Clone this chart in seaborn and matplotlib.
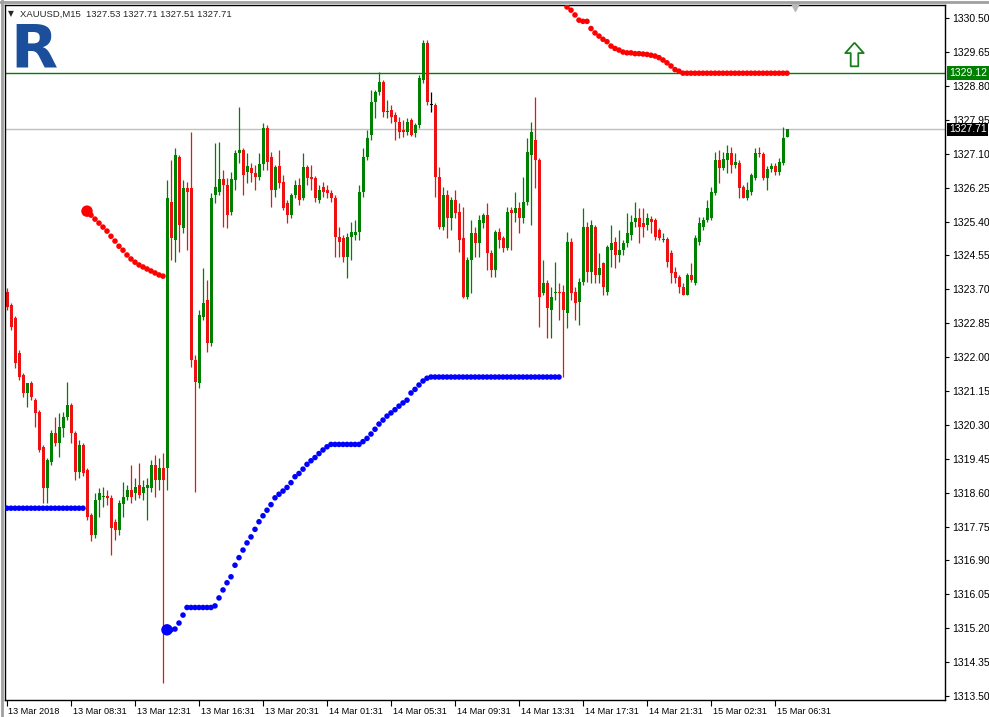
import numpy as np
import pandas as pd
import matplotlib
matplotlib.use("Agg")
import matplotlib.pyplot as plt
import matplotlib.transforms as mtransforms
from matplotlib.path import Path
import seaborn as sns

# XAUUSD M15 bars
opens = [1323.63, 1323.30, 1322.98, 1322.10, 1321.55, 1321.10, 1321.35, 1320.92, 1320.62, 1319.75,
         1318.72, 1319.37, 1320.10, 1319.85, 1320.22, 1320.50, 1320.80, 1320.10, 1319.12, 1319.80,
         1319.17, 1318.04, 1317.54, 1318.41, 1318.49, 1318.52, 1318.46, 1317.86, 1317.66, 1318.32,
         1318.49, 1318.66, 1318.59, 1318.79, 1318.59, 1318.72, 1318.72, 1319.29, 1318.92, 1319.22,
         1319.22, 1325.89, 1324.93, 1327.02, 1325.23, 1326.24, 1326.24, 1321.92, 1321.35, 1323.00,
         1323.43, 1322.35, 1326.06, 1326.14, 1326.46, 1326.31, 1325.64, 1326.44, 1327.12, 1327.19,
         1326.64, 1326.74, 1326.61, 1326.51, 1326.84, 1327.74, 1327.02, 1326.19, 1326.79, 1326.39,
         1325.86, 1325.56, 1326.06, 1326.31, 1325.99, 1326.76, 1326.51, 1326.49, 1325.94, 1326.26,
         1326.19, 1326.11, 1325.99, 1325.01, 1324.98, 1324.51, 1325.01, 1325.06, 1325.13, 1326.14,
         1327.02, 1327.57, 1328.39, 1328.64, 1328.90, 1328.14, 1328.19, 1328.07, 1327.89, 1327.69,
         1327.64, 1327.94, 1327.62, 1327.82, 1328.95, 1329.87, 1328.32, 1328.32, 1326.51, 1325.26,
         1326.06, 1325.48, 1325.94, 1325.64, 1324.98, 1323.51, 1324.43, 1325.11, 1324.86, 1325.36,
         1325.56, 1324.61, 1324.18, 1325.13, 1324.98, 1324.73, 1325.69, 1325.61, 1325.74, 1325.48,
         1325.89, 1327.07, 1327.44, 1326.94, 1323.61, 1323.86, 1323.18, 1323.61, 1323.63, 1323.63,
         1323.10, 1324.88, 1323.63, 1323.38, 1323.88, 1325.26, 1324.13, 1325.26, 1324.06, 1324.36,
         1323.63, 1324.68, 1324.88, 1324.56, 1324.68, 1324.86, 1325.06, 1325.38, 1325.48, 1325.36,
         1325.31, 1325.46, 1325.43, 1325.18, 1324.93, 1324.96, 1324.61, 1324.13, 1324.01, 1323.75,
         1323.55, 1324.06, 1323.86, 1324.88, 1325.26, 1325.43, 1325.48, 1326.11, 1326.94, 1326.74,
         1326.94, 1327.12, 1326.81, 1326.86, 1326.26, 1325.99, 1326.14, 1326.49, 1327.12, 1327.09,
         1326.49, 1326.71, 1326.79, 1326.64, 1326.86, 1327.53]
highs = [1323.73, 1323.35, 1323.03, 1322.17, 1321.60, 1321.35, 1321.40, 1320.97, 1320.67, 1319.80,
         1319.47, 1320.17, 1320.50, 1320.60, 1320.62, 1321.38, 1320.85, 1320.15, 1319.92, 1319.85,
         1319.22, 1318.09, 1318.59, 1318.72, 1318.74, 1318.66, 1318.54, 1317.94, 1318.41, 1318.86,
         1318.79, 1319.29, 1318.97, 1319.34, 1318.92, 1318.97, 1319.42, 1319.54, 1319.47, 1319.59,
         1326.44, 1326.94, 1327.24, 1327.07, 1326.44, 1326.39, 1327.64, 1322.05, 1323.18, 1324.23,
         1323.93, 1326.11, 1327.37, 1327.39, 1326.69, 1326.49, 1326.64, 1327.19, 1328.27, 1327.24,
         1327.12, 1326.86, 1326.81, 1327.12, 1327.87, 1327.82, 1327.14, 1326.81, 1327.19, 1326.56,
         1325.94, 1326.11, 1326.44, 1326.49, 1327.12, 1326.81, 1326.81, 1326.55, 1326.31, 1326.39,
         1326.31, 1326.19, 1326.06, 1325.26, 1325.06, 1325.11, 1325.38, 1325.43, 1326.31, 1327.24,
         1327.69, 1328.69, 1328.69, 1329.15, 1328.95, 1328.44, 1328.32, 1328.14, 1328.02, 1327.94,
         1328.00, 1328.00, 1327.87, 1329.07, 1329.95, 1329.95, 1328.64, 1328.37, 1326.76, 1326.26,
         1326.19, 1326.01, 1326.19, 1325.86, 1325.76, 1324.51, 1325.43, 1325.26, 1325.56, 1325.61,
         1325.86, 1324.68, 1325.18, 1325.23, 1325.03, 1325.76, 1325.76, 1326.14, 1325.89, 1326.51,
         1327.49, 1327.89, 1328.52, 1326.99, 1324.43, 1323.93, 1323.75, 1324.38, 1323.86, 1323.80,
         1325.13, 1324.98, 1323.75, 1323.98, 1325.74, 1325.38, 1325.43, 1325.31, 1324.61, 1324.38,
         1324.81, 1325.31, 1325.01, 1325.18, 1324.93, 1325.61, 1325.56, 1325.89, 1325.74, 1325.74,
         1325.61, 1325.53, 1325.48, 1325.23, 1325.11, 1325.01, 1324.68, 1324.26, 1324.06, 1323.86,
         1324.11, 1324.36, 1325.06, 1325.51, 1325.51, 1325.94, 1326.26, 1327.14, 1327.19, 1327.14,
         1327.32, 1327.27, 1327.12, 1326.94, 1326.31, 1326.39, 1326.61, 1327.24, 1327.27, 1327.14,
         1326.79, 1326.86, 1326.86, 1326.99, 1327.77, 1327.71]
lows = [1323.18, 1322.68, 1321.72, 1321.42, 1321.00, 1320.75, 1320.92, 1320.25, 1319.62, 1318.34,
        1318.34, 1319.29, 1319.77, 1319.50, 1319.99, 1320.42, 1319.85, 1318.92, 1318.97, 1319.02,
        1317.91, 1317.39, 1317.46, 1317.99, 1318.24, 1318.29, 1317.04, 1317.41, 1317.54, 1317.99,
        1318.41, 1318.34, 1318.41, 1318.46, 1318.41, 1317.91, 1318.61, 1318.49, 1318.66, 1313.83,
        1318.66, 1324.43, 1324.38, 1324.63, 1325.10, 1324.68, 1321.75, 1318.61, 1321.22, 1322.93,
        1322.12, 1322.27, 1325.86, 1326.06, 1325.26, 1325.23, 1325.56, 1326.19, 1326.86, 1326.06,
        1326.36, 1326.39, 1326.19, 1326.44, 1326.69, 1326.69, 1325.76, 1326.01, 1326.24, 1325.69,
        1325.36, 1325.48, 1325.99, 1325.81, 1325.94, 1326.31, 1326.19, 1325.89, 1325.86, 1326.01,
        1325.99, 1325.89, 1324.51, 1324.51, 1324.38, 1323.98, 1324.43, 1324.93, 1324.93, 1326.01,
        1326.94, 1327.44, 1327.99, 1328.57, 1328.02, 1327.99, 1327.87, 1327.44, 1327.49, 1327.52,
        1327.57, 1327.54, 1327.52, 1327.74, 1328.87, 1328.32, 1328.14, 1326.01, 1325.21, 1325.18,
        1324.98, 1325.18, 1325.48, 1324.63, 1323.48, 1323.45, 1323.61, 1324.51, 1324.51, 1325.23,
        1324.18, 1324.01, 1324.01, 1324.73, 1324.63, 1324.68, 1324.68, 1325.38, 1325.11, 1325.36,
        1325.81, 1325.31, 1326.24, 1322.75, 1323.55, 1322.48, 1322.48, 1323.43, 1322.93, 1321.50,
        1322.73, 1323.43, 1322.93, 1322.80, 1323.80, 1323.88, 1323.86, 1323.86, 1323.86, 1323.55,
        1323.55, 1324.26, 1324.23, 1324.38, 1324.56, 1324.76, 1324.93, 1325.26, 1324.86, 1325.01,
        1325.18, 1325.11, 1324.93, 1324.93, 1324.88, 1324.26, 1323.86, 1323.86, 1323.61, 1323.55,
        1323.55, 1323.88, 1323.80, 1324.81, 1325.18, 1325.38, 1325.43, 1326.06, 1326.36, 1326.69,
        1326.61, 1326.61, 1326.74, 1325.99, 1325.99, 1325.94, 1326.06, 1326.44, 1327.02, 1326.44,
        1326.19, 1326.64, 1326.56, 1326.56, 1326.81, 1327.51]
closes = [1323.25, 1322.75, 1321.85, 1321.50, 1321.10, 1321.35, 1321.00, 1320.60, 1319.67, 1318.72,
          1319.42, 1320.10, 1319.85, 1320.25, 1320.50, 1320.80, 1320.10, 1319.12, 1319.80, 1319.10,
          1317.99, 1317.54, 1318.41, 1318.59, 1318.52, 1318.46, 1317.71, 1317.66, 1318.34, 1318.49,
          1318.66, 1318.49, 1318.74, 1318.54, 1318.74, 1318.79, 1319.29, 1318.92, 1319.22, 1318.92,
          1325.99, 1324.98, 1327.07, 1325.31, 1326.24, 1326.14, 1321.92, 1321.37, 1323.05, 1323.35,
          1322.35, 1325.99, 1326.26, 1326.46, 1326.31, 1325.56, 1326.46, 1327.12, 1327.19, 1326.56,
          1326.79, 1326.61, 1326.51, 1326.84, 1327.74, 1326.89, 1326.19, 1326.76, 1326.36, 1325.74,
          1325.56, 1326.06, 1326.31, 1325.94, 1326.76, 1326.49, 1326.46, 1325.99, 1326.19, 1326.14,
          1326.11, 1325.99, 1325.01, 1324.88, 1324.51, 1325.01, 1325.13, 1325.13, 1326.14, 1327.02,
          1327.49, 1328.39, 1328.64, 1328.90, 1328.14, 1328.17, 1328.02, 1327.89, 1327.64, 1327.64,
          1327.89, 1327.57, 1327.82, 1329.00, 1329.87, 1328.39, 1328.32, 1326.51, 1325.26, 1326.06,
          1325.48, 1325.94, 1325.61, 1324.93, 1323.51, 1324.43, 1325.11, 1324.86, 1325.43, 1325.56,
          1324.61, 1324.18, 1325.13, 1324.93, 1324.73, 1325.64, 1325.61, 1325.74, 1325.48, 1325.89,
          1327.14, 1327.64, 1326.94, 1323.51, 1323.86, 1323.23, 1323.51, 1323.63, 1323.61, 1323.18,
          1324.88, 1323.61, 1323.35, 1323.88, 1325.26, 1324.13, 1325.31, 1324.06, 1324.23, 1323.75,
          1324.76, 1324.86, 1324.56, 1324.68, 1324.86, 1325.11, 1325.38, 1325.48, 1325.26, 1325.26,
          1325.48, 1325.38, 1325.01, 1324.98, 1324.96, 1324.38, 1324.11, 1323.98, 1323.75, 1323.55,
          1324.06, 1323.93, 1324.98, 1325.36, 1325.43, 1325.74, 1326.14, 1326.94, 1326.74, 1326.96,
          1327.12, 1326.81, 1326.89, 1326.24, 1325.99, 1326.19, 1326.56, 1327.12, 1327.09, 1326.49,
          1326.71, 1326.79, 1326.64, 1326.89, 1327.49, 1327.71]

# Parabolic SAR dots (nan = off the visible area)
sar = ([1318.21] * 20
       + [1325.66, 1325.56, 1325.46, 1325.36, 1325.26, 1325.16, 1325.03, 1324.91, 1324.78, 1324.68,
          1324.56, 1324.46, 1324.38, 1324.31, 1324.26, 1324.21, 1324.16, 1324.11, 1324.06, 1324.03]
       + [1315.16, 1315.16, 1315.18, 1315.33, 1315.53]
       + [1315.72] * 7
       + [1315.76, 1315.96, 1316.16, 1316.34, 1316.49, 1316.78, 1316.97, 1317.16, 1317.34, 1317.49,
          1317.68, 1317.87, 1318.02, 1318.16, 1318.30, 1318.47, 1318.56, 1318.64, 1318.73, 1318.85,
          1319.00, 1319.08, 1319.19, 1319.31, 1319.40, 1319.48, 1319.58, 1319.67, 1319.75, 1319.81]
       + [1319.81] * 7
       + [1319.88, 1319.96, 1320.07, 1320.19, 1320.32, 1320.42, 1320.52, 1320.60, 1320.68, 1320.77,
          1320.85, 1320.92, 1321.10, 1321.19, 1321.30, 1321.40, 1321.47]
       + [1321.50] * 33
       + [np.nan]
       + [1330.78, 1330.70, 1330.58, 1330.45, 1330.42, 1330.42, 1330.24, 1330.13, 1330.05, 1329.97,
          1329.91, 1329.80, 1329.74, 1329.70, 1329.65, 1329.63, 1329.63, 1329.61, 1329.61, 1329.60,
          1329.59, 1329.57, 1329.55, 1329.51, 1329.45, 1329.38, 1329.30, 1329.21, 1329.17]
       + [1329.12] * 27)
sar_flip_bars = [20, 40]

x_tick_bars = [0, 16, 32, 48, 64, 80, 96, 112, 128, 144, 160, 176, 192]
x_tick_labels = ["13 Mar 2018", "13 Mar 08:31", "13 Mar 12:31", "13 Mar 16:31", "13 Mar 20:31",
                 "14 Mar 01:31", "14 Mar 05:31", "14 Mar 09:31", "14 Mar 13:31", "14 Mar 17:31",
                 "14 Mar 21:31", "15 Mar 02:31", "15 Mar 06:31"]
y_ticks = [1313.50, 1314.35, 1315.20, 1316.05, 1316.90, 1317.75, 1318.60, 1319.45, 1320.30,
           1321.15, 1322.00, 1322.85, 1323.70, 1324.55, 1325.40, 1326.25, 1327.10, 1327.95,
           1328.80, 1329.65, 1330.50]
bid_price = 1327.71
level_price = 1329.12
signal_bar = 211.75
signal_price = 1329.61
header = "XAUUSD,M15  1327.53 1327.71 1327.51 1327.71"

GREEN = "#008000"
RED = "#ee1111"

df = pd.DataFrame({"open": opens, "high": highs, "low": lows, "close": closes, "sar": sar})
df["bar"] = np.arange(len(df))
df["color"] = np.where(df["close"] > df["open"], GREEN,
                       np.where(df["close"] < df["open"], RED, "black"))
df["side"] = np.where(df["sar"] > df["close"], "down", "up")

sns.set_style("white")
plt.rcParams["font.family"] = ["Liberation Sans", "DejaVu Sans"]

fig = plt.figure(figsize=(9.89, 7.17), dpi=100)
ax = fig.add_axes([5 / 989, 17 / 717, 940 / 989, 695 / 717])

# horizontal levels
ax.axhline(bid_price, color="#c0c0c0", lw=1, zorder=1)
ax.axhline(level_price, color=GREEN, lw=1, zorder=1)

# candles
ax.vlines(df["bar"], df["low"], df["high"], colors=df["color"], lw=0.9, zorder=2)
body = (df["close"] - df["open"]).abs().clip(lower=0.025)
ax.bar(df["bar"], body, bottom=df[["open", "close"]].min(axis=1), width=0.75,
       color=df["color"], linewidth=0, zorder=2)

# SAR dots
dots = df.dropna(subset=["sar"])
sns.scatterplot(data=dots, x="bar", y="sar", hue="side",
                palette={"up": "#0000ff", "down": "#ff0000"}, s=16, linewidth=0,
                legend=False, ax=ax, zorder=3)
flips = df.loc[sar_flip_bars]
sns.scatterplot(data=flips, x="bar", y="sar", hue="side",
                palette={"up": "#0000ff", "down": "#ff0000"}, s=68, linewidth=0,
                legend=False, ax=ax, zorder=3)

# signal arrow
arrow = Path([(0, 0.5), (0.39, 0.06), (0.16, 0.06), (0.16, -0.5), (-0.16, -0.5),
              (-0.16, 0.06), (-0.39, 0.06), (0, 0.5)])
ax.scatter([signal_bar], [signal_price], marker=arrow, s=290, facecolor="white",
           edgecolor="#1a7d1a", linewidth=1.3, zorder=4)

ax.set_xlim(-0.5, 234.5)
ax.set_ylim(1313.40, 1330.83)
ax.set_xlabel("")
ax.set_ylabel("")

# axes styling like the terminal
for sp in ax.spines.values():
    sp.set_color("black")
    sp.set_linewidth(1)

ax.yaxis.tick_right()
ax.set_yticks(y_ticks)
ax.set_yticklabels([f"{v:.2f}" for v in y_ticks], fontsize=7.5)
ax.tick_params(axis="y", direction="out", length=3, width=0.8, pad=2, colors="black", right=True)

ax.set_xticks(x_tick_bars)
ax.set_xticklabels(x_tick_labels, fontsize=6.6, ha="left")
ax.tick_params(axis="x", direction="out", length=4, width=0.8, pad=0.8, colors="black", bottom=True)
offset = mtransforms.ScaledTranslation(1.5 / 100, 0, fig.dpi_scale_trans)
for lbl in ax.get_xticklabels():
    lbl.set_transform(lbl.get_transform() + offset)

# price boxes on the right scale
trans = mtransforms.blended_transform_factory(ax.transAxes, ax.transData)
ax.text(1.004, level_price, f"{level_price:.2f}", transform=trans, ha="left", va="center",
        fontsize=7.5, color="white", zorder=5, clip_on=False,
        bbox=dict(boxstyle="square,pad=0.18", fc=GREEN, ec="none"))
ax.text(1.004, bid_price, f"{bid_price:.2f}", transform=trans, ha="left", va="center",
        fontsize=7.5, color="white", zorder=5, clip_on=False,
        bbox=dict(boxstyle="square,pad=0.18", fc="black", ec="none"))

# chart shift marker
ax.plot([197], [1330.78], marker="v", ms=6, color="#b8b8b8", clip_on=False, zorder=5)

# header and logo
fig.text(8 / 989, 1 - 14 / 717, "\u25bc", fontsize=5.5, va="center", ha="left",
         family=["DejaVu Sans"])
fig.text(20 / 989, 1 - 14 / 717, header, fontsize=6.8, va="center", ha="left")
fig.text(10 / 989, 1 - 51 / 717, "R", fontsize=44, fontweight="bold", color="#1b4f9c",
         va="center", ha="left", family=["DejaVu Sans"])

# window border
fig.add_artist(plt.Line2D([1.5 / 989, 1.5 / 989], [0, 1], color="#a0a0a0", lw=2))
fig.add_artist(plt.Line2D([0, 1], [1 - 1.5 / 717, 1 - 1.5 / 717], color="#a0a0a0", lw=2))

fig.savefig("out.png", dpi=100)
